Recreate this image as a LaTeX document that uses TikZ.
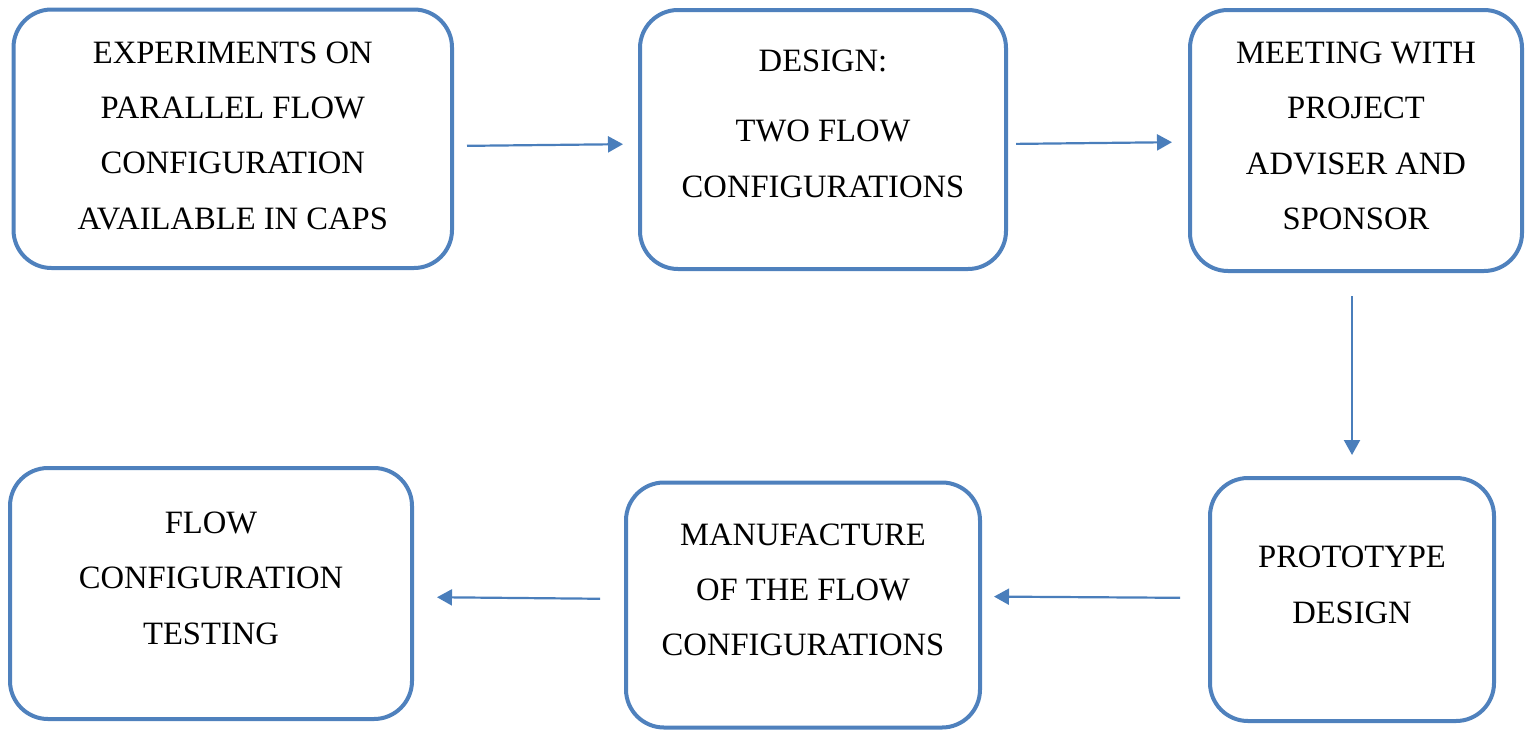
\documentclass[tikz,border=0pt]{standalone}
\usepackage{fontspec}
\setmainfont{Liberation Serif}
\usetikzlibrary{arrows.meta}
\definecolor{boxblue}{HTML}{4F81BD}
\definecolor{arrblue}{HTML}{4A7EBB}
\tikzset{
  stepbox/.style={draw=boxblue, line width=4pt, rounded corners=38pt, rectangle, outer sep=0pt, inner sep=0pt, fill=white},
  txt/.style={anchor=base, inner sep=0pt, font=\fontsize{32.6}{38}\selectfont},
  arr/.style={draw=arrblue, line width=2.2pt, -{Triangle[length=15pt,width=16pt]}}
}
\begin{document}
\begin{tikzpicture}[x=1pt,y=-1pt]
\useasboundingbox (0,0) rectangle (1533,731);
% boxes
\node[stepbox, minimum width=438.5pt, minimum height=258.5pt] (b1) at (232.75,138.75) {};
\node[stepbox, minimum width=366pt, minimum height=259pt] (b2) at (823,139.5) {};
\node[stepbox, minimum width=332pt, minimum height=261pt] (b3) at (1356,140.5) {};
\node[stepbox, minimum width=284pt, minimum height=243pt] (b4) at (1352,599.5) {};
\node[stepbox, minimum width=354pt, minimum height=245pt] (b5) at (803,605) {};
\node[stepbox, minimum width=402pt, minimum height=251pt] (b6) at (211,593.5) {};
% texts
\node[txt] (t1a) at (232.75,63) {EXPERIMENTS ON};
\node[txt] (t1b) at (232.75,118) {PARALLEL FLOW};
\node[txt] (t1c) at (232.75,173.5) {CONFIGURATION};
\node[txt] (t1d) at (232.75,229) {AVAILABLE IN CAPS};
\node[txt] (t2a) at (823,71) {DESIGN:};
\node[txt] (t2b) at (823,141.7) {TWO FLOW};
\node[txt] (t2c) at (823,197) {CONFIGURATIONS};
\node[txt] (t3a) at (1356,63) {MEETING WITH};
\node[txt] (t3b) at (1356,118) {PROJECT};
\node[txt] (t3c) at (1356,174) {ADVISER AND};
\node[txt] (t3d) at (1356,229) {SPONSOR};
\node[txt] (t4a) at (1352,567) {PROTOTYPE};
\node[txt] (t4b) at (1352,623) {DESIGN};
\node[txt] (t5a) at (803,545) {MANUFACTURE};
\node[txt] (t5b) at (803,600) {OF THE FLOW};
\node[txt] (t5c) at (803,655) {CONFIGURATIONS};
\node[txt] (t6a) at (211,533) {FLOW};
\node[txt] (t6b) at (211,588) {CONFIGURATION};
\node[txt] (t6c) at (211,644) {TESTING};
% connectors
\draw[arr, shorten <=15pt, shorten >=17pt] ([yshift=-7.25pt]b1.east) -- ([yshift=-4.5pt]b2.west);
\draw[arr, shorten <=10pt, shorten >=18pt] ([yshift=-4.5pt]b2.east) -- ([yshift=-1.5pt]b3.west);
\draw[arr, shorten <=25pt, shorten >=23pt] ([xshift=-4pt]b3.south) -- (b4.north);
\draw[arr, shorten <=30pt, shorten >=14pt] ([yshift=1.5pt]b4.west) -- ([yshift=8.5pt]b5.east);
\draw[arr, shorten <=26pt, shorten >=25pt] ([yshift=6pt]b5.west) -- ([yshift=-3.5pt]b6.east);
\end{tikzpicture}
\end{document}
